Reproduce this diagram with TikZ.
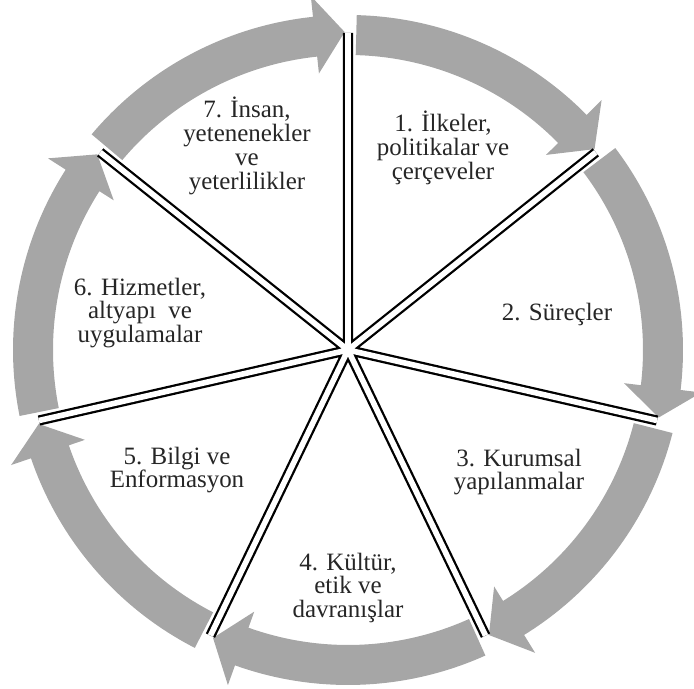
\documentclass[tikz,border=0pt]{standalone}
\usepackage{fontspec}
\setmainfont{Liberation Serif}
\definecolor{halka}{RGB}{166,166,166}
\tikzset{
  etiket/.style={align=center, font=\fontsize{14.2}{13.6}\selectfont, text=black!85},
  cubuk/.style={line width=1.3pt, double=white, double distance=3.2pt},
}
\begin{document}
\begin{tikzpicture}
        \useasboundingbox (-6.96,-6.78) rectangle (6.92,7.00);

        % gray arrows of the ring
        \foreach \a in {0,...,6} {
            \pgfmathsetmacro{\s}{90-\a*360/7-1.5}
            \pgfmathsetmacro{\b}{90-(\a+1)*360/7+6}
            \pgfmathsetmacro{\t}{90-(\a+1)*360/7+0.6}
            \fill[halka] (\s:5.9) arc[start angle=\s, end angle=\b, radius=5.9]
                -- (\b:5.56) -- (\t:6.36) -- (\b:7.12) -- (\b:6.7)
                arc[start angle=\b, end angle=\s, radius=6.7] -- cycle;
        }

        % spokes
        \coordinate (merkez) at (0,0);
        \foreach \a in {0,...,6} {
            \coordinate (uc\a) at ({90-\a*360/7}:6.34);
        }
        \draw[cubuk] (merkez) \foreach \a in {0,...,6} { -- (uc\a) (merkez) };

        % Labels
        \node[etiket] (ilkeler) at (1.90,4.04) {1. İlkeler,\\politikalar ve\\çerçeveler};
        \node[etiket] (surecler) at (4.18,0.70) {2. Süreçler};
        \node[etiket] (kurumsal) at (3.42,-2.44) {3. Kurumsal\\yapılanmalar};
        \node[etiket] (kultur) at (0,-4.76) {4. Kültür,\\etik ve\\davranışlar};
        \node[etiket] (bilgi) at (-3.42,-2.40) {5. Bilgi ve\\Enformasyon};
        \node[etiket] (hizmetler) at (-4.16,0.74) {6. Hizmetler,\\altyapı\ \ ve\\uygulamalar};
        \node[etiket] (insan) at (-2.02,4.08) {7. İnsan,\\yetenenekler\\ve\\yeterlilikler};

    \end{tikzpicture}
\end{document}
